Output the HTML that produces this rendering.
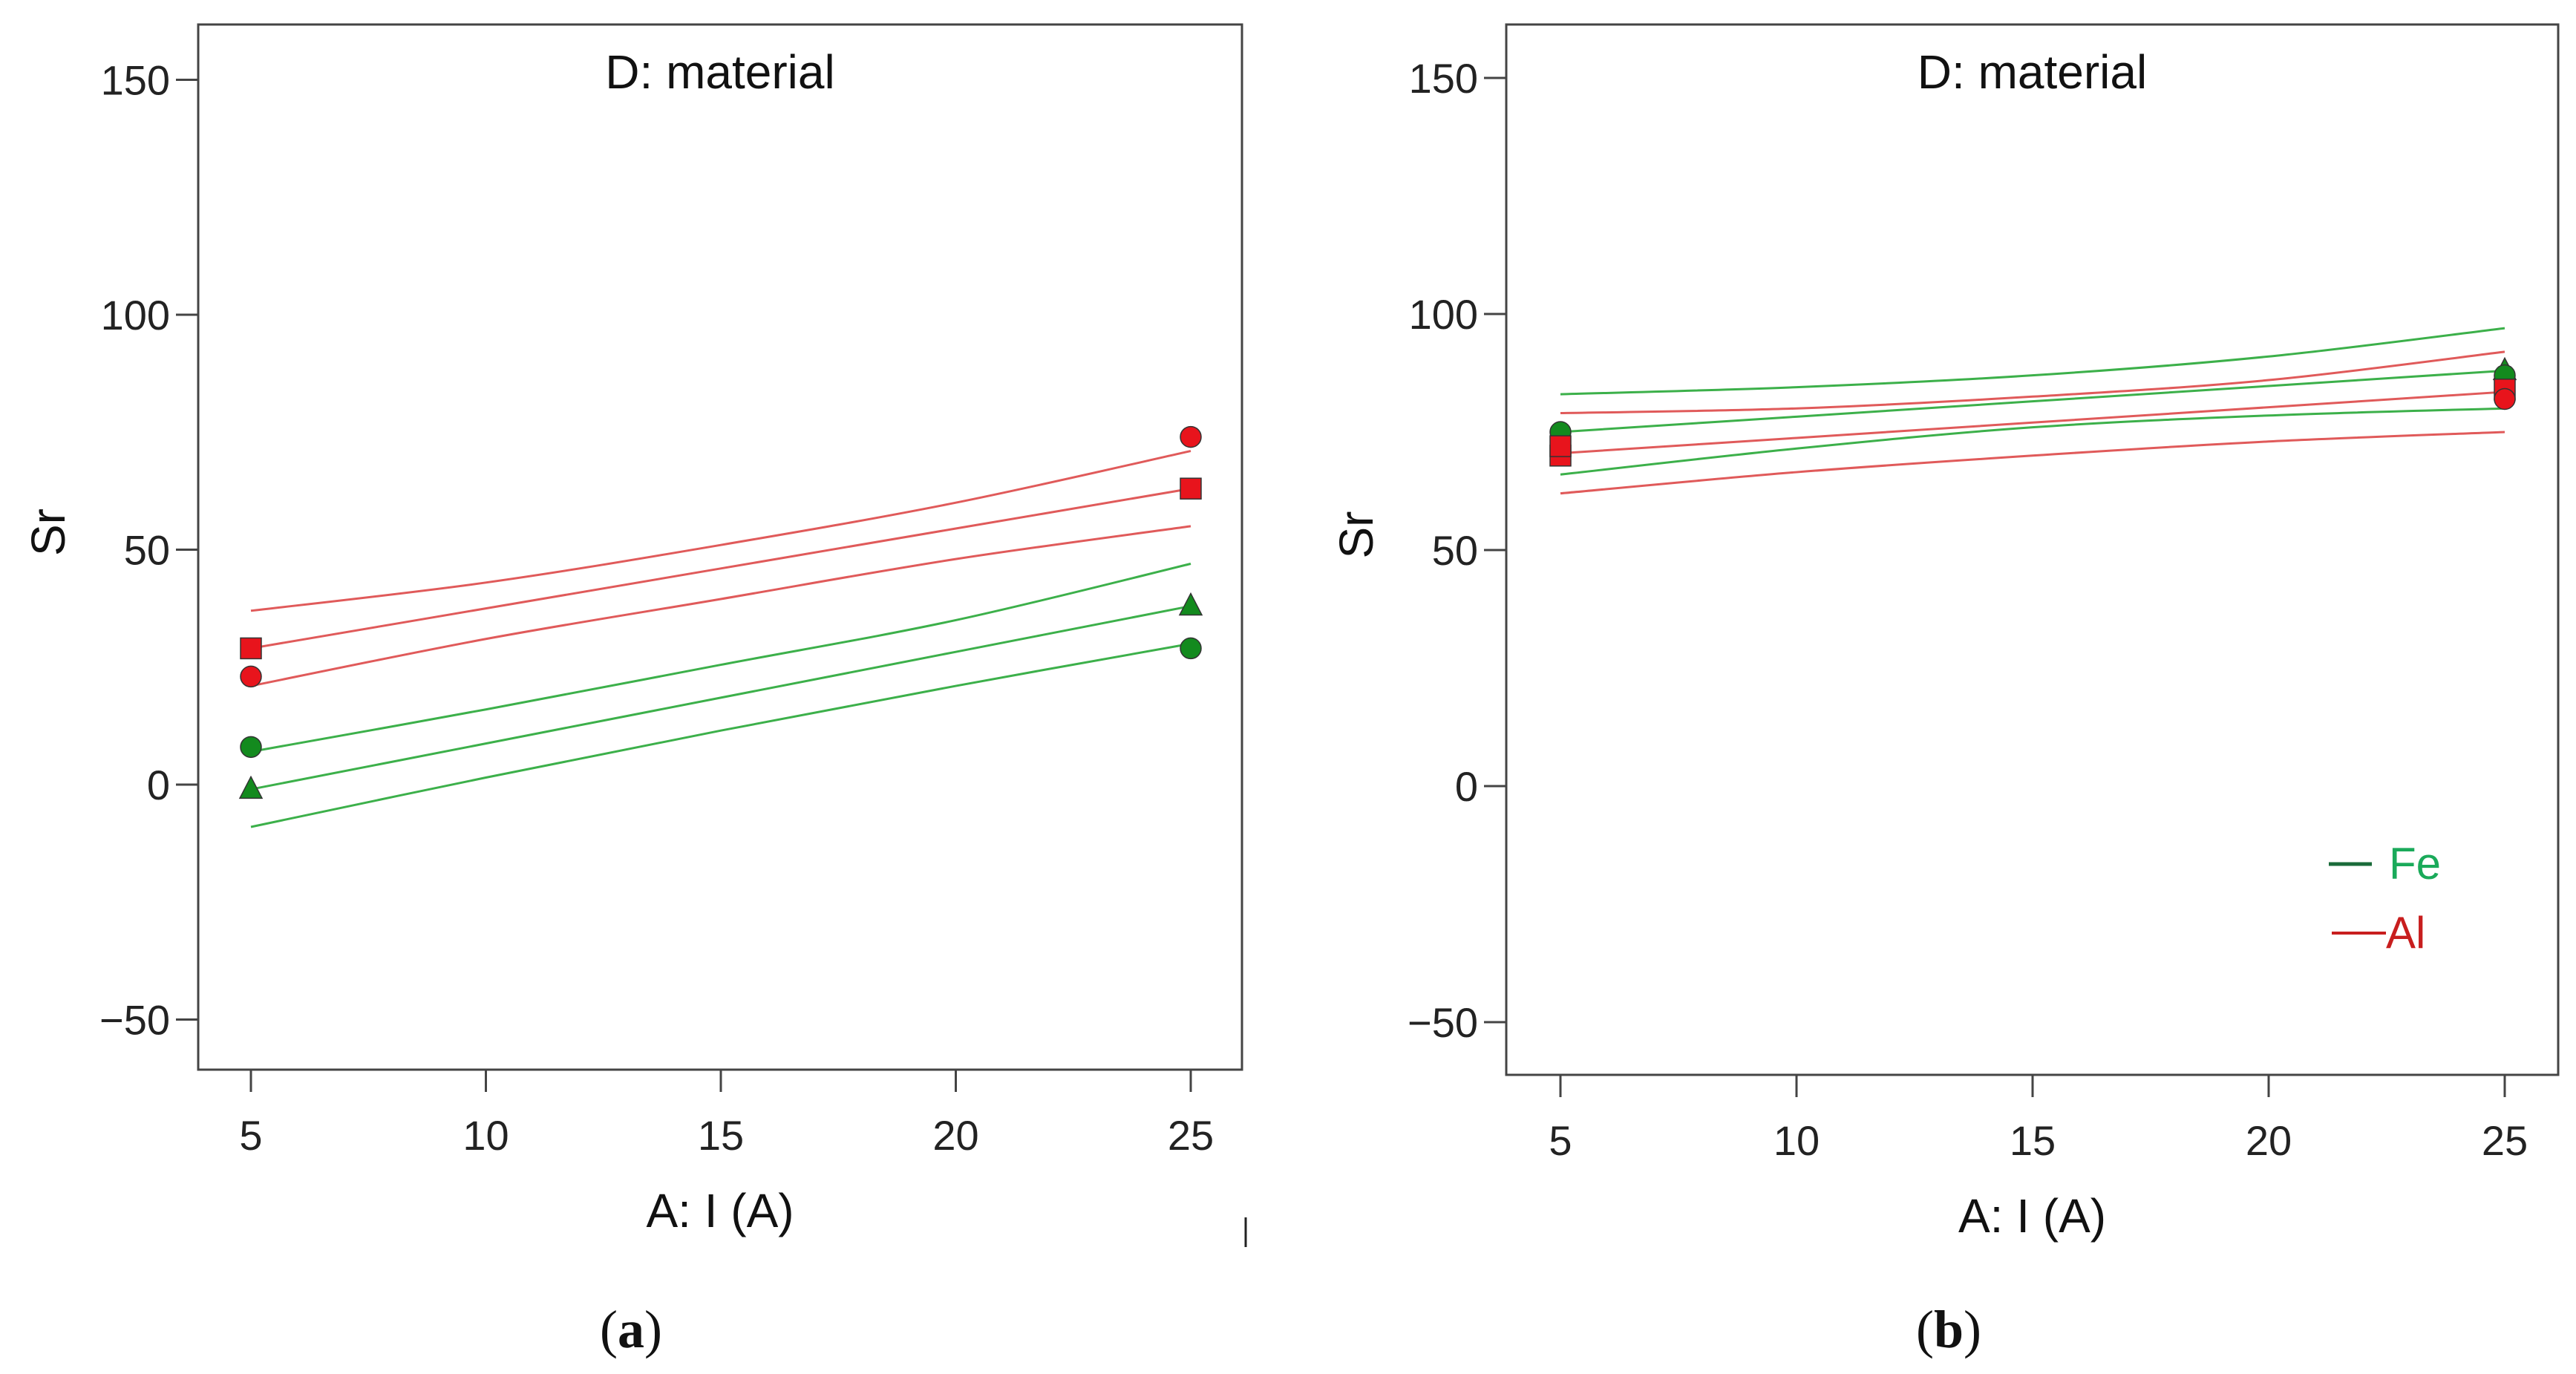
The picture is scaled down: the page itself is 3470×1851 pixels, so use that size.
<!DOCTYPE html>
<html><head><meta charset="utf-8"><style>
html,body{margin:0;padding:0;background:#fff;}
svg{display:block;font-family:"Liberation Sans",sans-serif;}
</style></head><body>
<svg id="fig" width="3470" height="1851" viewBox="0 0 3470 1851"></svg>
<script>
const xCats=[5,10,15,20,25];
const xTicks=[5,10,15,20,25];
const yTicks=[150,100,50,0,-50];
// panel a
const aRedUpper=[37,43,51,60,71];
const aRedMean=[29,37.5,46,54.5,63];
const aRedLower=[21,31,39.5,48,55];
const aGreenUpper=[7,16,25.5,35,47];
const aGreenMean=[-1,8.75,18.5,28.25,38];
const aGreenLower=[-9,1.5,11.5,21,30];
const aPointsX=[5,5,25,25,5,5,25,25];
const aPointsY=[29,23,74,63,8,-1,38,29];
const aPointsShape=["square","circle","circle","square","circle","triangle","triangle","circle"];
const aPointsColor=["red","red","red","red","green","green","green","green"];
// panel b
const bGreenUpper=[83,84.5,87,91,97];
const bGreenMean=[75,78.25,81.5,84.75,88];
const bGreenLower=[66,71.5,76,78.5,80];
const bRedUpper=[79,80,82.5,86,92];
const bRedMean=[70.5,73.75,77,80.25,83.5];
const bRedLower=[62,66.5,70,73,75];
const bPointsX=[5,5,5,25,25,25,25];
const bPointsY=[75,70,72,88,87,84,82];
const bPointsShape=["circle","square","square","triangle","circle","square","circle"];
const bPointsColor=["green","red","red","green","green","red","red"];

const NS="http://www.w3.org/2000/svg";
const svg=document.getElementById('fig');
function mk(tag,attrs,parent){const e=document.createElementNS(NS,tag);for(const k in attrs)e.setAttribute(k,attrs[k]);(parent||svg).appendChild(e);return e;}
const LC={red:"#e05a5a",green:"#3cb04a"};
const FC={red:"#e8141c",green:"#138a1e"};

function smooth(pts){
  let d='M'+pts[0][0]+' '+pts[0][1];
  for(let i=0;i<pts.length-1;i++){
    const p0=pts[Math.max(0,i-1)],p1=pts[i],p2=pts[i+1],p3=pts[Math.min(pts.length-1,i+2)];
    const c1x=p1[0]+(p2[0]-p0[0])/6,c1y=p1[1]+(p2[1]-p0[1])/6;
    const c2x=p2[0]-(p3[0]-p1[0])/6,c2y=p2[1]-(p3[1]-p1[1])/6;
    d+=` C${c1x} ${c1y} ${c2x} ${c2y} ${p2[0]} ${p2[1]}`;
  }
  return d;
}

function panel(p){
  const g=mk('g',{});
  
  
  const sx=v=>p.x5+(v-5)*(p.x25-p.x5)/20;
  const sy=v=>p.y0-v*p.ppu;
  const fr=mk('rect',{x:p.fx0,y:p.fy0,width:p.fx1-p.fx0,height:p.fy1-p.fy0,fill:'none',stroke:'#444','stroke-width':3},g);
  
  
  yTicks.forEach(t=>{
    const y=sy(t);
    const l=mk('line',{x1:p.fx0-30,x2:p.fx0,y1:y,y2:y,stroke:'#444','stroke-width':3},g);
    
    
    const tx=mk('text',{x:p.fx0-38,y:y+20,'text-anchor':'end','font-size':56,fill:'#222'},g);
    tx.textContent=t<0?'\u2212'+(-t):String(t);
    
    
  });
  xTicks.forEach(t=>{
    const x=sx(t);
    const l=mk('line',{x1:x,x2:x,y1:p.fy1,y2:p.fy1+30,stroke:'#444','stroke-width':3},g);
    
    
    const tx=mk('text',{x:x,y:p.fy1+108,'text-anchor':'middle','font-size':56,fill:'#222'},g);
    tx.textContent=t;
    
    
  });
  const title=mk('text',{x:(p.fx0+p.fx1)/2,y:p.fy0+86,'text-anchor':'middle','font-size':64,fill:'#111'},g);
  title.textContent='D: material';
  
  
  const xl=mk('text',{x:(p.fx0+p.fx1)/2,y:p.fy1+212,'text-anchor':'middle','font-size':64,fill:'#111'},g);
  xl.textContent='A: I (A)';
  
  
  const yl=mk('text',{x:0,y:0,'text-anchor':'middle','font-size':64,fill:'#111',transform:`translate(${p.fx0-180},${(p.fy0+p.fy1)/2-20}) rotate(-90)`},g);
  yl.textContent='Sr';
  
  
  p.lines.forEach(ln=>{
    const pts=xCats.map((c,i)=>[sx(c),sy(ln.vals[i])]);
    const pa=mk('path',{d:smooth(pts),fill:'none',stroke:LC[ln.color],'stroke-width':3},g);
    
    
  });
  p.px.forEach((xv,i)=>{
    const x=sx(xv),y=sy(p.py[i]),c=FC[p.pc[i]];let e;
    if(p.ps[i]==='circle')e=mk('circle',{cx:x,cy:y,r:14,fill:c,stroke:'#333','stroke-width':1.5},g);
    else if(p.ps[i]==='square')e=mk('rect',{x:x-14,y:y-14,width:28,height:28,fill:c,stroke:'#333','stroke-width':1.5},g);
    else e=mk('polygon',{points:`${x},${y-17} ${x-15},${y+12} ${x+15},${y+12}`,fill:c,stroke:'#333','stroke-width':1.5},g);
    
    
  });
}
panel({name:'panel-a',fx0:267,fx1:1673,fy0:33,fy1:1441,x5:338,x25:1604,y0:1057,ppu:6.33,
  lines:[{name:'al-upper-ci',color:'red',vals:aRedUpper},{name:'al-mean-line',color:'red',vals:aRedMean},{name:'al-lower-ci',color:'red',vals:aRedLower},
         {name:'fe-upper-ci',color:'green',vals:aGreenUpper},{name:'fe-mean-line',color:'green',vals:aGreenMean},{name:'fe-lower-ci',color:'green',vals:aGreenLower}],
  px:aPointsX,py:aPointsY,ps:aPointsShape,pc:aPointsColor});
panel({name:'panel-b',fx0:2029,fx1:3446,fy0:33,fy1:1448,x5:2102,x25:3374,y0:1059,ppu:6.36,
  lines:[{name:'fe-upper-ci',color:'green',vals:bGreenUpper},{name:'al-upper-ci',color:'red',vals:bRedUpper},{name:'fe-mean-line',color:'green',vals:bGreenMean},
         {name:'al-mean-line',color:'red',vals:bRedMean},{name:'fe-lower-ci',color:'green',vals:bGreenLower},{name:'al-lower-ci',color:'red',vals:bRedLower}],
  px:bPointsX,py:bPointsY,ps:bPointsShape,pc:bPointsColor});
</script>
<svg style="position:absolute;left:0;top:0" width="3470" height="1851">
  <g>
    <line x1="3137" y1="1164" x2="3195" y2="1164" stroke="#1a6b3a" stroke-width="5"/>
    <text x="3218" y="1184" font-size="60" fill="#1aaa5a" font-family="Liberation Sans, sans-serif">Fe</text>
    <line x1="3141" y1="1257" x2="3214" y2="1257" stroke="#c81e1e" stroke-width="4"/>
    <text x="3214" y="1277" font-size="60" fill="#c81e1e" font-family="Liberation Sans, sans-serif">Al</text>
  </g>
  <line x1="1678" y1="1640" x2="1678" y2="1680" stroke="#222" stroke-width="3"/>
  <text x="850" y="1815" text-anchor="middle" font-size="72" font-family="Liberation Serif, serif" fill="#111">(<tspan font-weight="bold">a</tspan>)</text>
  <text x="2625" y="1815" text-anchor="middle" font-size="72" font-family="Liberation Serif, serif" fill="#111">(<tspan font-weight="bold">b</tspan>)</text>
</svg>
</body></html>
